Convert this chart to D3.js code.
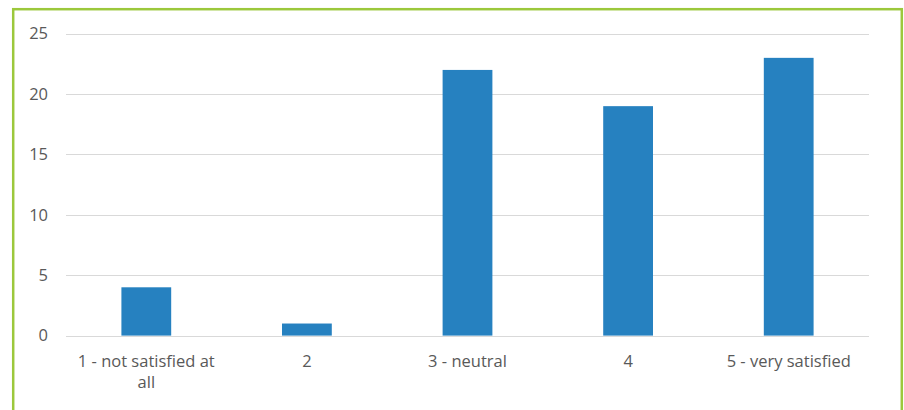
<!DOCTYPE html>
<html>
<head>
<meta charset="utf-8">
<script src="https://cdn.jsdelivr.net/npm/d3@7"></script>
<style>
  html, body { margin: 0; padding: 0; background: #fff; }
  svg { display: block; }
  text { font-family: "Open Sans", sans-serif; fill: #595959; }
</style>
</head>
<body>
<svg id="chart" width="904" height="410"></svg>
<script>
// Satisfaction ratings and number of responses per rating
const categories = ["1 - not satisfied at all", "2", "3 - neutral", "4", "5 - very satisfied"];
const counts = [4, 1, 22, 19, 23];
const yTicks = [0, 5, 10, 15, 20, 25];

const svg = d3.select("#chart");
const plot = { left: 66, right: 869, top: 33.7, bottom: 335.6 };
const FONT = "'Open Sans', sans-serif";
const FONT_SIZE = 16.5;

// green frame around the chart area
svg.append("rect")
  .attr("x", 13.2).attr("y", 9.2)
  .attr("width", 888.6).attr("height", 420)
  .attr("fill", "none")
  .attr("stroke", "#9cc83c")
  .attr("stroke-width", 2.5);

const x = d3.scaleBand()
  .domain(categories)
  .range([plot.left, plot.right])
  .paddingInner(0.69)
  .paddingOuter(0.345);

const y = d3.scaleLinear()
  .domain([0, 25])
  .range([plot.bottom, plot.top]);

// horizontal gridlines
svg.append("g")
  .selectAll("line")
  .data(yTicks)
  .join("line")
  .attr("x1", plot.left).attr("x2", plot.right)
  .attr("y1", d => Math.round(y(d)) + 0.5)
  .attr("y2", d => Math.round(y(d)) + 0.5)
  .attr("stroke", "#d9d9d9")
  .attr("stroke-width", 1);

// y-axis labels
const yAxis = d3.axisLeft(y).tickValues(yTicks).tickSize(0).tickPadding(0);
svg.append("g")
  .attr("transform", `translate(${plot.left - 18},0)`)
  .call(yAxis)
  .call(g => g.select(".domain").remove())
  .call(g => g.selectAll("text")
    .attr("font-size", FONT_SIZE)
    .attr("font-family", FONT)
    .attr("fill", "#595959"));

// bars
svg.append("g")
  .selectAll("rect")
  .data(counts)
  .join("rect")
  .attr("x", (d, i) => x(categories[i]))
  .attr("width", x.bandwidth())
  .attr("y", d => y(d))
  .attr("height", d => y(0) - y(d))
  .attr("fill", "#2681c0");

// category labels, wrapped to the band width
const labelWidth = 150;
const labels = svg.append("g")
  .selectAll("text")
  .data(categories)
  .join("text")
  .attr("text-anchor", "middle")
  .attr("font-size", FONT_SIZE)
  .attr("font-family", FONT)
  .attr("x", d => x(d) + x.bandwidth() / 2)
  .attr("y", 367);

labels.each(function(d) {
  const t = d3.select(this);
  const words = d.split(" ");
  let line = [];
  let tspan = t.append("tspan").attr("x", t.attr("x")).attr("dy", 0);
  words.forEach(w => {
    line.push(w);
    tspan.text(line.join(" "));
    if (tspan.node().getComputedTextLength() > labelWidth && line.length > 1) {
      line.pop();
      tspan.text(line.join(" "));
      line = [w];
      tspan = t.append("tspan").attr("x", t.attr("x")).attr("dy", 21).text(w);
    }
  });
});
</script>
</body>
</html>
